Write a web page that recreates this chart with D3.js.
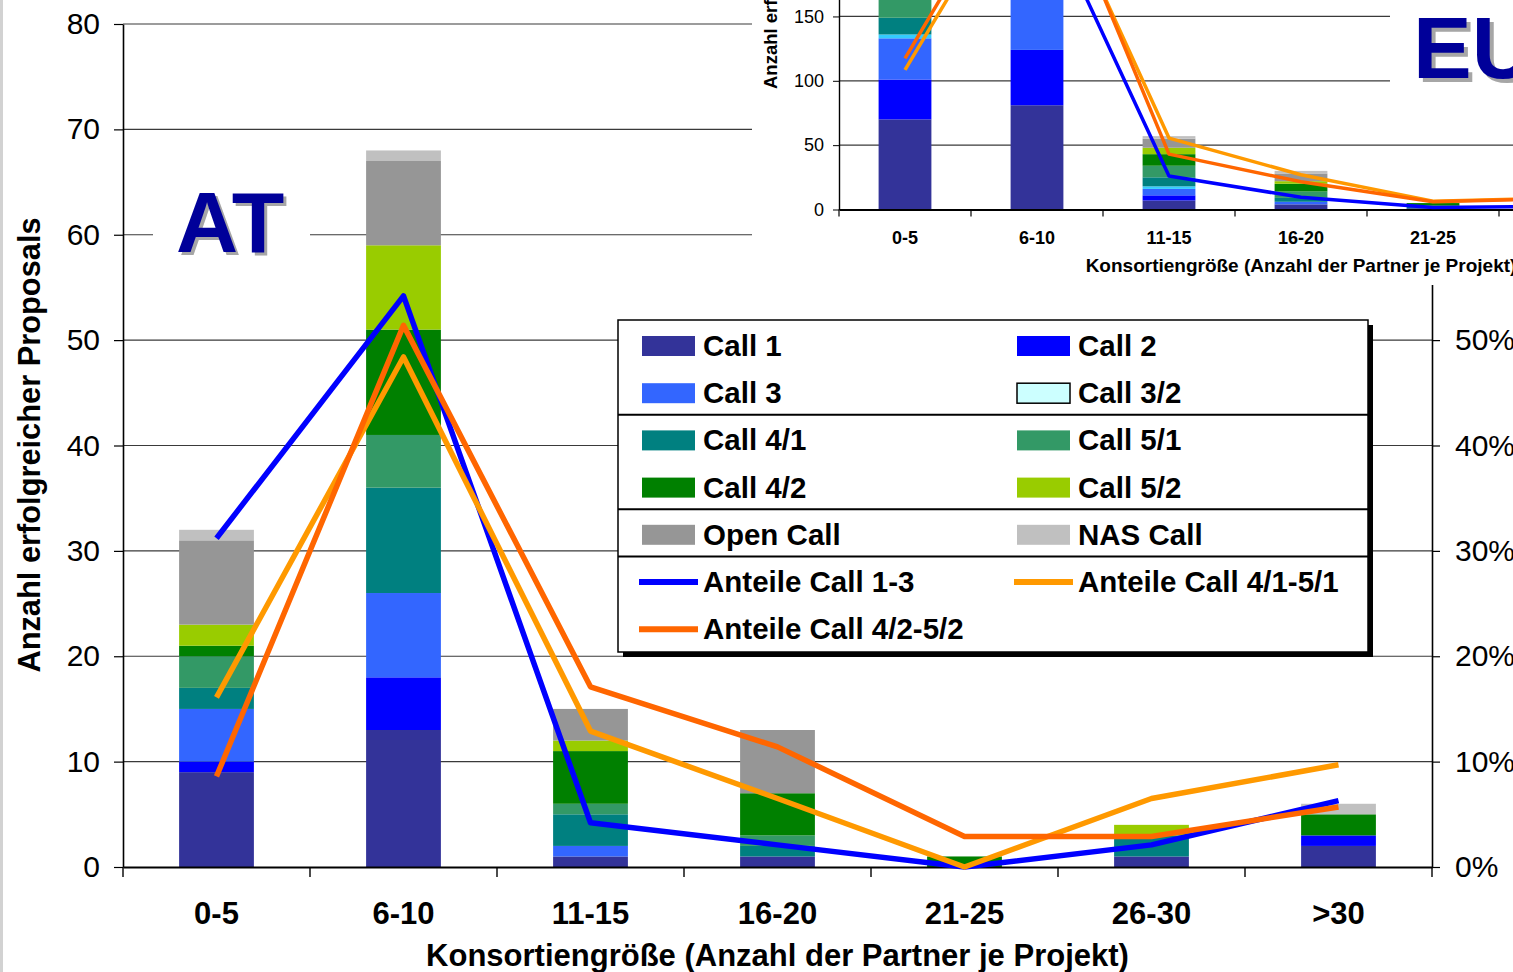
<!DOCTYPE html>
<html><head><meta charset="utf-8">
<script src="https://cdn.jsdelivr.net/npm/d3@7"></script>
<style>
body{margin:0;background:#fff;}
svg{display:block;font-family:"Liberation Sans",Arial,sans-serif;}
</style>
</head><body>
<svg id="c" width="1513" height="972"></svg>
<script>
// ---------- DATA ----------
const categories = ["0-5","6-10","11-15","16-20","21-25","26-30",">30"];
const seriesNames = ["Call 1","Call 2","Call 3","Call 3/2","Call 4/1","Call 5/1","Call 4/2","Call 5/2","Open Call","NAS Call"];
const seriesColors = ["#333399","#0000FF","#3366FF","#33CCFF","#008080","#339966","#008000","#99CC00","#969696","#C0C0C0"];
const legendSwatchColors = ["#333399","#0000FF","#3366FF","#CCFFFF","#008080","#339966","#008000","#99CC00","#969696","#C0C0C0"];

// AT (main chart) – number of successful proposals
const atCall1  = [9, 13, 1, 1, 0, 1, 2];
const atCall2  = [1, 5, 0, 0, 0, 0, 1];
const atCall3  = [5, 8, 1, 0, 0, 0, 0];
const atCall32 = [0, 0, 0, 0, 0, 0, 0];
const atCall41 = [2, 10, 3, 1, 0, 2, 0];
const atCall51 = [3, 5, 1, 1, 0, 0, 0];
const atCall42 = [1, 10, 5, 4, 1, 0, 2];
const atCall52 = [2, 8, 1, 0, 0, 1, 0];
const atOpen   = [8, 8, 3, 6, 0, 0, 0];
const atNas    = [1, 1, 0, 0, 0, 0, 1];

// AT shares (%)
const lineNames = ["Anteile Call 1-3","Anteile Call 4/1-5/1","Anteile Call 4/2-5/2"];
const lineColors = ["#0000FF","#FF9900","#FF6600"];
const atShare13   = [31.2, 54.2, 4.2, 2.1, 0, 2.1, 6.3];
const atShare4151 = [16.1, 48.4, 12.9, 6.5, 0, 6.5, 9.7];
const atShare4252 = [8.6, 51.4, 17.1, 11.4, 2.9, 2.9, 5.7];

// EU (inset)
const euCall1  = [70, 81, 7, 4, 1, 1, 2];
const euCall2  = [31, 43, 4, 0, 0, 0, 1];
const euCall3  = [32, 40, 5, 2, 0, 0, 0];
const euCall32 = [3, 2, 2, 0, 0, 0, 0];
const euCall41 = [13, 40, 7, 3, 1, 1, 0];
const euCall51 = [18, 45, 9, 5, 1, 0, 0];
const euCall42 = [20, 50, 9, 6, 2, 2, 2];
const euCall52 = [18, 45, 5, 2, 0, 0, 1];
const euOpen   = [45, 60, 7, 6, 0, 1, 1];
const euNas    = [6, 8, 2, 2, 0, 0, 0];
const euShare13   = [41, 49.3, 5.2, 1.9, 0.3, 0.5, 1];
const euShare4151 = [21.7, 56, 11.1, 5.4, 1.3, 1.8, 2];
const euShare4252 = [23.5, 58, 8.6, 4.3, 1.2, 1.7, 2];

// ticks
const yTicks = [0,10,20,30,40,50,60,70,80];
const y2Ticks = [0,0.1,0.2,0.3,0.4,0.5,0.6,0.7,0.8];
const euYTicks = [0,50,100,150,200,250,300,350,400];

const xTitle = "Konsortiengröße (Anzahl der Partner je Projekt)";
const yTitle = "Anzahl erfolgreicher Proposals";

// ---------- HELPERS ----------
function table(arrs){
  return categories.map((c,i)=>{
    const o={cat:c};
    seriesNames.forEach((s,k)=>o[s]=arrs[k][i]);
    return o;
  });
}
const atTable = table([atCall1,atCall2,atCall3,atCall32,atCall41,atCall51,atCall42,atCall52,atOpen,atNas]);
const euTable = table([euCall1,euCall2,euCall3,euCall32,euCall41,euCall51,euCall42,euCall52,euOpen,euNas]);
const stack = d3.stack().keys(seriesNames);
const colorOf = d3.scaleOrdinal().domain(seriesNames).range(seriesColors);

const svg = d3.select("#c");
const FONT = '"Liberation Sans", Arial, sans-serif';
svg.append("rect").attr("width",1513).attr("height",972).attr("fill","#fff");
svg.append("rect").attr("x",0).attr("y",0).attr("width",3).attr("height",972).attr("fill","#d2d2d2");

// ---------- MAIN CHART ----------
const L=123, R=1432, T=24, B=867;
const x = d3.scaleBand().domain(categories).range([L,R]).paddingInner(0.6).paddingOuter(0.3);
const y = d3.scaleLinear().domain([0,80]).range([B,T]);
const y2 = d3.scaleLinear().domain([0,0.8]).range([B,T]);

// gridlines
svg.append("g").selectAll("line").data(yTicks.filter(t=>t>0)).join("line")
  .attr("x1",L).attr("x2",R).attr("y1",d=>y(d)).attr("y2",d=>y(d))
  .attr("stroke","#3a3a3a").attr("stroke-width",1.2);

// bars
svg.append("g").selectAll("g").data(stack(atTable)).join("g")
  .attr("fill",d=>colorOf(d.key))
  .selectAll("rect").data(d=>d).join("rect")
  .attr("x",d=>x(d.data.cat)).attr("width",x.bandwidth())
  .attr("y",d=>y(d[1])).attr("height",d=>y(d[0])-y(d[1]));

// left axis
const gl = svg.append("g").attr("transform",`translate(${L},0)`)
  .call(d3.axisLeft(y).tickValues(yTicks).tickSize(9).tickPadding(14).tickSizeOuter(0));
gl.selectAll("text").attr("font-size",30).attr("font-family",FONT).attr("fill","#000");
gl.selectAll("line").attr("stroke","#000").attr("stroke-width",1.2);
gl.select(".domain").attr("stroke","#000").attr("stroke-width",1.6);

// right axis
const gr = svg.append("g").attr("transform",`translate(${R},0)`)
  .call(d3.axisRight(y2).tickValues(y2Ticks).tickFormat(d3.format(".0%")).tickSize(8).tickPadding(15).tickSizeOuter(0));
gr.selectAll("text").attr("font-size",30).attr("font-family",FONT).attr("fill","#000");
gr.selectAll("line").attr("stroke","#000").attr("stroke-width",1.2);
gr.select(".domain").attr("stroke","#000").attr("stroke-width",1.6);

// bottom axis
const gb = svg.append("g").attr("transform",`translate(0,${B})`)
  .call(d3.axisBottom(x).tickSize(0).tickPadding(35).tickSizeOuter(0));
gb.selectAll("text").attr("font-size",31).attr("font-weight","bold").attr("font-family",FONT).attr("fill","#000");
gb.select(".domain").attr("stroke","#000").attr("stroke-width",2);
svg.append("g").selectAll("line").data(d3.range(categories.length+1)).join("line")
  .attr("x1",i=>L+i*x.step()).attr("x2",i=>L+i*x.step())
  .attr("y1",B).attr("y2",B+10).attr("stroke","#000").attr("stroke-width",1.4);

// titles
svg.append("text").attr("x",(L+R)/2).attr("y",966).attr("text-anchor","middle")
  .attr("font-size",31).attr("font-weight","bold").text(xTitle);
svg.append("text").attr("transform",`translate(40,445) rotate(-90)`).attr("text-anchor","middle")
  .attr("font-size",30.8).attr("font-weight","bold").text(yTitle);

// AT label
svg.append("rect").attr("x",153).attr("y",175).attr("width",157).attr("height",95).attr("fill","#fff");
svg.append("text").attr("x",179).attr("y",255).attr("font-size",86).attr("font-weight","bold").attr("fill","#a6a6a6").text("AT");
svg.append("text").attr("x",176).attr("y",252).attr("font-size",86).attr("font-weight","bold").attr("fill","#000099").text("AT");

// lines
const cx = c=>x(c)+x.bandwidth()/2;
const mainLine = d3.line().x((d,i)=>cx(categories[i])).y(d=>y2(d/100));
[atShare13,atShare4151,atShare4252].forEach((s,k)=>{
  svg.append("path").attr("d",mainLine(s)).attr("fill","none")
    .attr("stroke",lineColors[k]).attr("stroke-width",5.5).attr("stroke-linejoin","round");
});

// ---------- LEGEND ----------
const lg = svg.append("g");
const LX=618, LY=320, LW=750, LH=332;
lg.append("rect").attr("x",LX+5).attr("y",LY+5).attr("width",LW).attr("height",LH).attr("fill","#000");
lg.append("rect").attr("x",LX).attr("y",LY).attr("width",LW).attr("height",LH).attr("fill","#fff").attr("stroke","#000").attr("stroke-width",1.5);
const rowY = i=>346+i*47.2;
const colX = [642,1017];
const legendItems = seriesNames.map((n,i)=>({name:n,type:"rect",color:legendSwatchColors[i]}))
  .concat(lineNames.map((n,i)=>({name:n,type:"line",color:lineColors[i]})));
legendItems.forEach((it,i)=>{
  const r=Math.floor(i/2), c=i%2, yy=rowY(r), xx=colX[c];
  if(it.type==="rect"){
    lg.append("rect").attr("x",xx).attr("y",yy-10).attr("width",53).attr("height",20)
      .attr("fill",it.color).attr("stroke",it.name==="Call 3/2"?"#000":"none").attr("stroke-width",1.5);
  } else {
    lg.append("line").attr("x1",xx-3).attr("x2",xx+56).attr("y1",yy).attr("y2",yy)
      .attr("stroke",it.color).attr("stroke-width",6);
  }
  lg.append("text").attr("x",xx+61).attr("y",yy+10).attr("font-size",29.5).attr("font-weight","bold").text(it.name);
});
[1,3,4].forEach(r=>{
  const yy=(rowY(r)+rowY(r+1))/2-2;
  lg.append("line").attr("x1",LX).attr("x2",LX+LW).attr("y1",yy).attr("y2",yy).attr("stroke","#000").attr("stroke-width",2);
});

// ---------- INSET (EU) ----------
const ig = svg.append("g");
ig.append("rect").attr("x",752).attr("y",0).attr("width",761).attr("height",285).attr("fill","#fff");
const iL=839, iB=209.5, pxPerUnit=1.287;
const ix = d3.scaleBand().domain(categories).range([iL,iL+7*132]).paddingInner(0.6).paddingOuter(0.3);
const iy = d3.scaleLinear().domain([0,400]).range([iB,iB-400*pxPerUnit]);
const iy2 = d3.scaleLinear().domain([0,0.8]).range([iB,iB-400*pxPerUnit]);

ig.append("g").selectAll("line").data(euYTicks.filter(t=>t>0)).join("line")
  .attr("x1",iL).attr("x2",iL+7*132).attr("y1",d=>iy(d)).attr("y2",d=>iy(d))
  .attr("stroke","#3a3a3a").attr("stroke-width",1.2);

ig.append("g").selectAll("g").data(stack(euTable)).join("g")
  .attr("fill",d=>colorOf(d.key))
  .selectAll("rect").data(d=>d).join("rect")
  .attr("x",d=>ix(d.data.cat)).attr("width",ix.bandwidth())
  .attr("y",d=>iy(d[1])).attr("height",d=>iy(d[0])-iy(d[1]));

const igl = ig.append("g").attr("transform",`translate(${iL},0)`)
  .call(d3.axisLeft(iy).tickValues(euYTicks).tickSize(6).tickPadding(9).tickSizeOuter(0));
igl.selectAll("text").attr("font-size",18).attr("font-family",FONT).attr("fill","#000");
igl.selectAll("line").attr("stroke","#000");
igl.select(".domain").attr("stroke","#000").attr("stroke-width",1.4);

const igb = ig.append("g").attr("transform",`translate(0,${iB})`)
  .call(d3.axisBottom(ix).tickSize(0).tickPadding(22).tickSizeOuter(0));
igb.selectAll("text").attr("font-size",18).attr("font-weight","bold").attr("font-family",FONT).attr("fill","#000");
igb.select(".domain").attr("stroke","#000").attr("stroke-width",1.8);
ig.append("g").selectAll("line").data(d3.range(categories.length+1)).join("line")
  .attr("x1",i=>iL+i*ix.step()).attr("x2",i=>iL+i*ix.step())
  .attr("y1",iB).attr("y2",iB+7).attr("stroke","#000").attr("stroke-width",1.2);

const icx = c=>ix(c)+ix.bandwidth()/2;
const insetLine = d3.line().x((d,i)=>icx(categories[i])).y(d=>iy2(d/100));
[euShare13,euShare4151,euShare4252].forEach((s,k)=>{
  ig.append("path").attr("d",insetLine(s)).attr("fill","none")
    .attr("stroke",lineColors[k]).attr("stroke-width",3.5).attr("stroke-linejoin","round");
});

ig.append("text").attr("x",iL+7*132/2).attr("y",272).attr("text-anchor","middle")
  .attr("font-size",19).attr("font-weight","bold").text(xTitle);
ig.append("text").attr("transform","translate(777,89) rotate(-90)").attr("text-anchor","start")
  .attr("font-size",18.5).attr("font-weight","bold").text(yTitle);

// EU label
ig.append("rect").attr("x",1390).attr("y",0).attr("width",130).attr("height",118).attr("fill","#fff");
ig.append("text").attr("x",1417).attr("y",82).attr("font-size",88).attr("font-weight","bold").attr("fill","#a6a6a6").text("EU");
ig.append("text").attr("x",1413).attr("y",78).attr("font-size",88).attr("font-weight","bold").attr("fill","#000099").text("EU");
</script>
</body></html>
